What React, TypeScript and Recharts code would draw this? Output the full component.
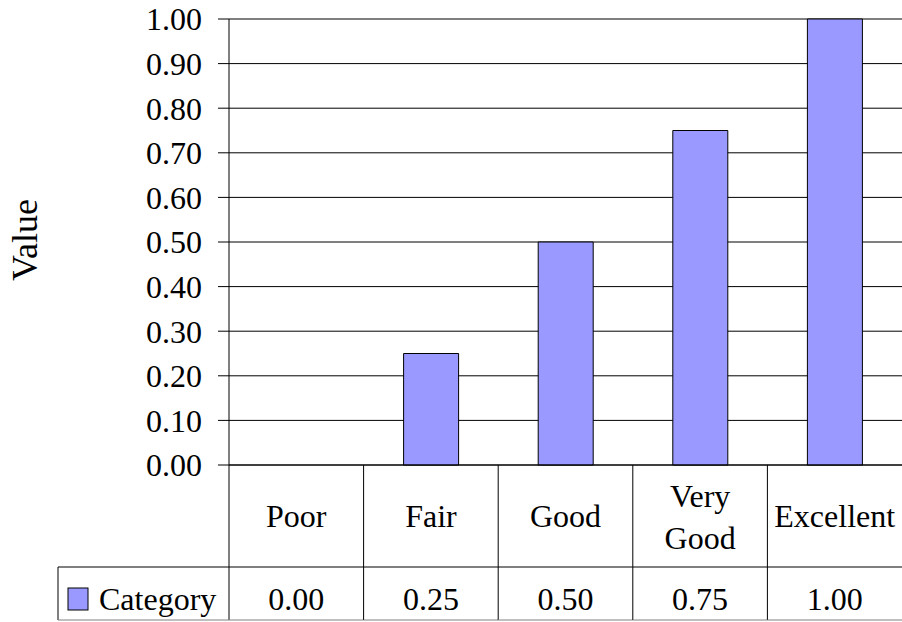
import React from 'react'
import { BarChart, Bar, XAxis, YAxis, CartesianGrid } from 'recharts'

const CATEGORIES = ['Poor', 'Fair', 'Good', 'Very Good', 'Excellent']
const VALUES = [0, 0.25, 0.5, 0.75, 1.0]
const Y_TICKS = [0, 0.1, 0.2, 0.3, 0.4, 0.5, 0.6, 0.7, 0.8, 0.9, 1.0]
const SERIES_NAME = 'Category'
const Y_LABEL = 'Value'

const W = 902
const H = 622
const AXIS_W = 229
const TABLE_H = 157
const BAND = (W - AXIS_W) / CATEGORIES.length
const FONT = 'Liberation Serif, Times New Roman, serif'
const BAR_FILL = '#9999ff'

const data = CATEGORIES.map((c, i) => ({ name: c, value: VALUES[i] }))

const txt = { fontSize: 32, fill: '#000', style: { fontFamily: FONT } }

// draws one column of the data table under the plot (label row + value row)
function TableTick(props: any) {
  const { x, y, payload, index } = props
  const i = index ?? payload.index
  const left = x - BAND / 2
  const right = x + BAND / 2
  const lines = String(payload.value).split(' ')
  const rowY = y + 102
  const bottom = y + 155

  return (
    <g>
      <line x1={left} y1={y} x2={left} y2={bottom} stroke="#000" />
      <line x1={left} y1={rowY} x2={right} y2={rowY} stroke="#000" />
      <line x1={left} y1={bottom} x2={right} y2={bottom} stroke="#808080" />
      {lines.length === 1 ? (
        <text x={x} y={y + 62} textAnchor="middle" {...txt}>{lines[0]}</text>
      ) : (
        lines.map((l, k) => (
          <text key={k} x={x} y={y + 42 + k * 42} textAnchor="middle" {...txt}>{l}</text>
        ))
      )}
      <text x={x} y={y + 145} textAnchor="middle" {...txt}>{VALUES[i].toFixed(2)}</text>
      {i === 0 && (
        <g>
          {/* legend cell */}
          <line x1={58} y1={rowY} x2={left} y2={rowY} stroke="#000" />
          <line x1={58} y1={rowY} x2={58} y2={bottom} stroke="#000" />
          <line x1={58} y1={bottom} x2={left} y2={bottom} stroke="#808080" />
          <rect x={68} y={y + 123} width={20} height={22} fill={BAR_FILL} stroke="#000" />
          <text x={99} y={y + 145} {...txt}>{SERIES_NAME}</text>
        </g>
      )}
    </g>
  )
}

function YLabel(props: any) {
  const vb = props.viewBox || { y: 19, height: 446 }
  const cy = vb.y + vb.height / 2 - 2
  return (
    <text
      x={37}
      y={cy}
      transform={`rotate(-90, 37, ${cy})`}
      textAnchor="middle"
      fontSize={36}
      fill="#000"
      style={{ fontFamily: FONT }}
    >
      {Y_LABEL}
    </text>
  )
}

export default function App() {
  return (
    <div
      style={{
        position: 'absolute',
        left: 0,
        top: 0,
        width: W,
        height: H,
        background: '#fff',
        fontFamily: FONT,
      }}
    >
      <BarChart width={W} height={H} data={data} margin={{ top: 19, right: 0, bottom: 0, left: 0 }} style={{ fontFamily: FONT }}>
        <CartesianGrid vertical={false} stroke="#000" />
        <XAxis
          dataKey="name"
          height={TABLE_H}
          axisLine={{ stroke: '#000' }}
          tickLine={false}
          tickSize={0}
          tickMargin={0}
          interval={0}
          tick={<TableTick />}
        />
        <YAxis
          width={AXIS_W}
          domain={[0, 1]}
          ticks={Y_TICKS}
          interval={0}
          tickFormatter={(v: number) => v.toFixed(2)}
          tickSize={11}
          tickMargin={16}
          axisLine={{ stroke: '#000' }}
          tickLine={{ stroke: '#000' }}
          tick={{ fontSize: 32, fill: '#000', style: { fontFamily: FONT } }}
          label={<YLabel />}
        />
        <Bar dataKey="value" fill={BAR_FILL} stroke="#000" barSize={55} isAnimationActive={false} />
      </BarChart>
    </div>
  )
}
